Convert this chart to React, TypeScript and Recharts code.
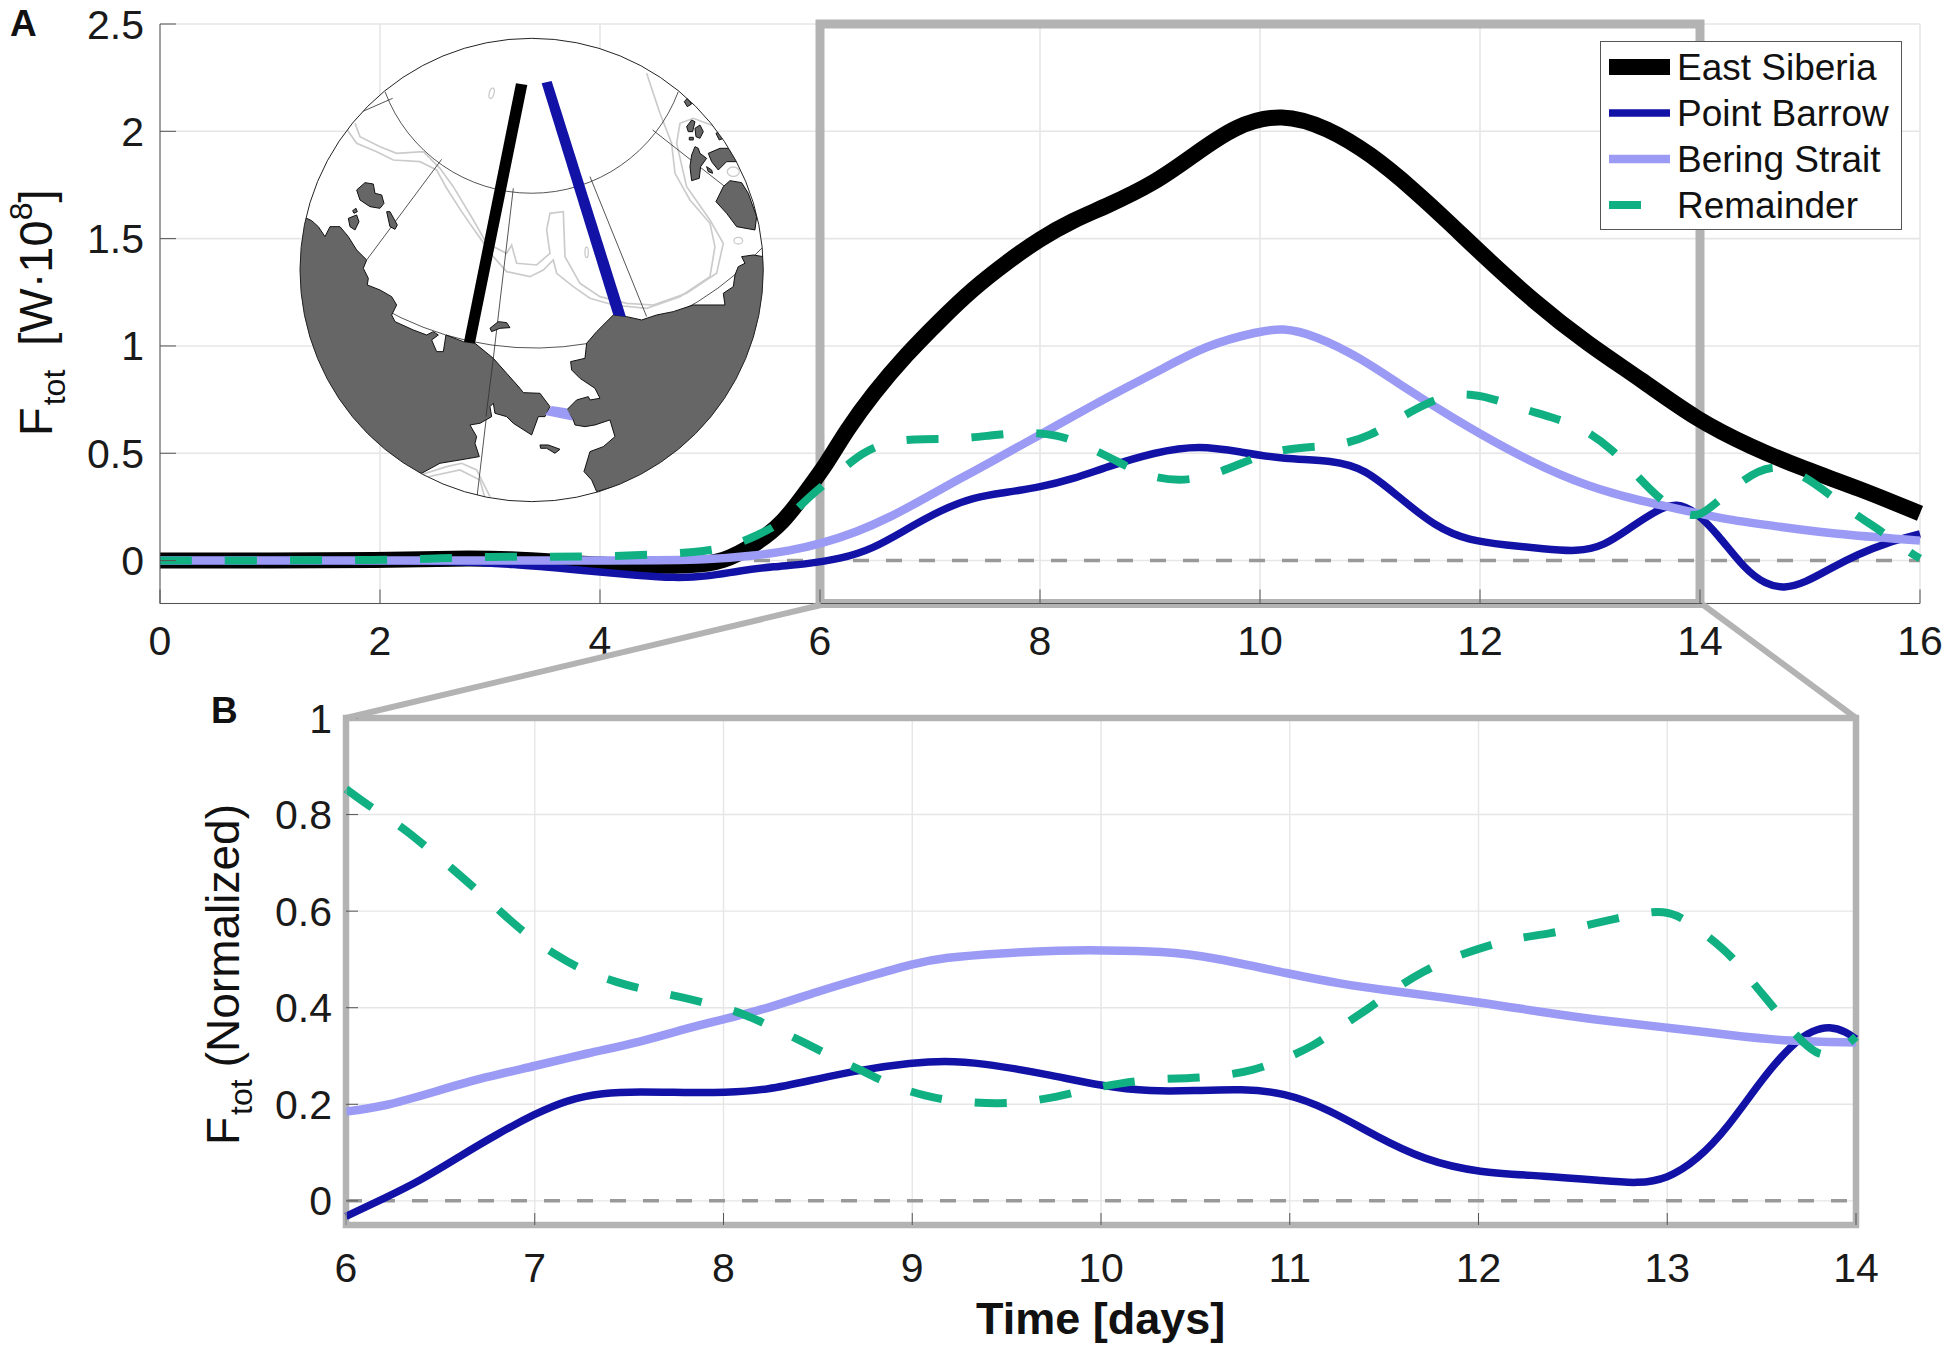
import {
  LineChart,
  Line,
  XAxis,
  YAxis,
  CartesianGrid,
  ReferenceArea,
  ReferenceLine,
  Legend,
} from 'recharts';

const FONT = '"Liberation Sans", Arial, sans-serif';
const BLACK = '#000000';
const BLUE = '#1212a6';
const LAVENDER = '#9b9bf5';
const GREEN = '#10b082';
const GREY = '#b3b3b3';
const FRAME = '#555555';

// Panel A, total flux [time in days, W x 10^8]
const eastSiberiaA = [
  [0, 0], [1, 0], [2, 0.002], [2.7, 0.011], [3.2, 0.008], [3.65, -0.008], [4, -0.02], [4.36, -0.025], [4.82, -0.025],
  [5.12, -0.008], [5.42, 0.077], [5.67, 0.178], [5.88, 0.326], [6.06, 0.45], [6.24, 0.606], [6.48, 0.777],
  [6.79, 0.963], [7.09, 1.119], [7.39, 1.267], [7.7, 1.391], [8, 1.5], [8.3, 1.586], [8.6, 1.65], [9.04, 1.758],
  [9.38, 1.883], [9.78, 2.03], [10.2, 2.085], [10.61, 2.018], [11.01, 1.894], [11.4, 1.727], [11.75, 1.56],
  [12, 1.436], [12.49, 1.206], [12.98, 1.009], [13.47, 0.842], [13.96, 0.659], [14.46, 0.53], [14.95, 0.426],
  [15.44, 0.338], [16, 0.22],
];
const pointBarrowA = [
  [0, 0], [1, 0], [2, 0], [2.6, -0.003], [3.2, -0.015], [3.88, -0.048], [4.36, -0.07], [4.67, -0.081], [4.97, -0.075],
  [5.27, -0.047], [5.58, -0.028], [5.88, -0.016], [6.18, 0.007], [6.48, 0.054], [6.79, 0.147], [7.09, 0.233],
  [7.39, 0.295], [7.7, 0.318], [8, 0.342], [8.3, 0.38], [8.6, 0.435], [9.04, 0.505], [9.456, 0.538], [9.83, 0.505],
  [10.22, 0.472], [10.66, 0.468], [10.96, 0.426], [11.25, 0.301], [11.6, 0.155], [11.9, 0.093], [12.24, 0.072],
  [12.58, 0.055], [12.88, 0.041], [13.13, 0.068], [13.37, 0.155], [13.62, 0.239], [13.79, 0.27], [13.96, 0.228],
  [14.16, 0.124], [14.41, -0.043], [14.6, -0.111], [14.76, -0.13], [14.95, -0.105], [15.2, -0.032], [15.44, 0.03],
  [15.69, 0.082], [16, 0.124],
];
const beringStraitA = [
  [0, 0], [2, 0], [4.36, 0], [4.97, 0.003], [5.42, 0.023], [5.73, 0.046], [6, 0.077], [6.33, 0.132], [6.64, 0.202],
  [6.94, 0.287], [7.24, 0.373], [7.55, 0.458], [7.85, 0.544], [8.15, 0.629], [8.45, 0.715], [8.76, 0.8], [9.04, 0.873],
  [9.53, 1.009], [9.99, 1.067], [10.2, 1.085], [10.5, 1.05], [10.91, 0.946], [11.3, 0.81], [11.75, 0.665], [12.24, 0.52],
  [12.73, 0.395], [13.2, 0.31], [13.72, 0.249], [14.21, 0.193], [14.7, 0.16], [15.2, 0.124], [16, 0.093],
];
const remainderA = [
  [0, 0], [1, 0.001], [2, 0.002], [2.5, 0.01], [3, 0.018], [3.5, 0.018], [4, 0.018], [4.55, 0.03], [4.85, 0.038],
  [5.15, 0.058], [5.43, 0.116], [5.69, 0.186], [5.91, 0.303], [6.14, 0.396], [6.38, 0.505], [6.64, 0.559], [6.95, 0.567],
  [7.24, 0.565], [7.55, 0.583], [7.84, 0.598], [8.15, 0.59], [8.42, 0.536], [8.72, 0.457], [8.96, 0.395], [9.27, 0.368],
  [9.555, 0.395], [9.85, 0.457], [10.1, 0.509], [10.42, 0.53], [10.71, 0.534], [11.01, 0.582], [11.25, 0.659],
  [11.525, 0.738], [11.8, 0.785], [12.1, 0.759], [12.38, 0.707], [12.68, 0.665], [12.95, 0.613], [13.2, 0.52],
  [13.41, 0.405], [13.64, 0.28], [13.86, 0.213], [14, 0.207], [14.15, 0.27], [14.38, 0.374], [14.65, 0.452],
  [14.92, 0.405], [15.17, 0.311], [15.4, 0.218], [15.66, 0.134], [15.9, 0.04], [16, 0.01],
];

// Panel B, normalized flux
const pointBarrowB = [
  [6, -0.032], [6.2, 0.005], [6.39, 0.041], [6.61, 0.094], [6.8, 0.138], [7, 0.18], [7.17, 0.209], [7.36, 0.224],
  [7.55, 0.226], [7.82, 0.224], [8, 0.224], [8.23, 0.229], [8.5, 0.253], [8.74, 0.272], [9, 0.286], [9.17, 0.29],
  [9.36, 0.286], [9.72, 0.262], [10, 0.238], [10.27, 0.226], [10.49, 0.228], [10.75, 0.232], [10.97, 0.224],
  [11.2, 0.191], [11.46, 0.133], [11.71, 0.085], [12, 0.058], [12.35, 0.052], [12.68, 0.041], [12.84, 0.036],
  [13, 0.045], [13.16, 0.085], [13.32, 0.151], [13.51, 0.257], [13.67, 0.328], [13.77, 0.353], [13.86, 0.362],
  [13.95, 0.35], [14, 0.335],
];
const beringStraitB = [
  [6, 0.185], [6.2, 0.195], [6.47, 0.226], [6.74, 0.257], [7, 0.279], [7.28, 0.306], [7.55, 0.328], [7.82, 0.359],
  [8, 0.376], [8.23, 0.398], [8.5, 0.434], [8.77, 0.465], [9, 0.491], [9.17, 0.504], [9.465, 0.513], [9.79, 0.519],
  [10, 0.519], [10.33, 0.517], [10.59, 0.505], [11.01, 0.469], [11.26, 0.45], [11.55, 0.434], [12, 0.412], [12.35, 0.39],
  [12.68, 0.372], [13, 0.359], [13.32, 0.344], [13.64, 0.33], [14, 0.328],
];
const remainderB = [
  [6, 0.853], [6.15, 0.81], [6.3, 0.774], [6.43, 0.731], [6.57, 0.686], [6.7, 0.641], [6.83, 0.595], [6.96, 0.55],
  [7.11, 0.509], [7.26, 0.476], [7.43, 0.453], [7.59, 0.436], [7.77, 0.423], [7.94, 0.406], [8.11, 0.388], [8.26, 0.359],
  [8.42, 0.33], [8.58, 0.297], [8.74, 0.269], [8.89, 0.238], [9.07, 0.217], [9.23, 0.205], [9.465, 0.201], [9.58, 0.204],
  [9.77, 0.215], [9.93, 0.232], [10.11, 0.244], [10.27, 0.252], [10.46, 0.254], [10.61, 0.257], [10.81, 0.27],
  [10.96, 0.292], [11.13, 0.321], [11.26, 0.359], [11.42, 0.398], [11.55, 0.438], [11.71, 0.476], [11.86, 0.504],
  [12.04, 0.527], [12.19, 0.544], [12.38, 0.553], [12.54, 0.568], [12.72, 0.584], [12.88, 0.597], [12.98, 0.6],
  [13.07, 0.59], [13.21, 0.55], [13.35, 0.504], [13.45, 0.453], [13.57, 0.398], [13.67, 0.347], [13.77, 0.31],
  [13.83, 0.3], [13.91, 0.308], [14, 0.34],
];

const xTicksA = [0, 2, 4, 6, 8, 10, 12, 14, 16];
const yTicksA = [0, 0.5, 1, 1.5, 2, 2.5];
const xTicksB = [6, 7, 8, 9, 10, 11, 12, 13, 14];
const yTicksB = [0, 0.2, 0.4, 0.6, 0.8, 1];

const toPoints = (rows: number[][]) => rows.map(([t, v]) => ({ t, v }));

const tickStyle = { fill: '#1a1a1a', fontSize: 41, fontFamily: FONT };
const noLabel = () => '';

function LegendBox({ payload }: any) {
  return (
    <div
      style={{
        width: 302,
        height: 189,
        background: '#fff',
        border: '1px solid #555',
        boxSizing: 'border-box',
        fontFamily: FONT,
        fontSize: 37,
        color: '#111',
      }}
    >
      {(payload || []).map((entry: any, i: number) => (
        <div key={entry.value} style={{ position: 'absolute', left: 0, top: 3 + i * 46, height: 46, whiteSpace: 'nowrap' }}>
          <svg width={76} height={46} style={{ position: 'absolute', left: 0, top: 0 }}>
            <line
              x1={9}
              x2={entry.payload.strokeDasharray ? 41 : 70}
              y1={23}
              y2={23}
              stroke={entry.color}
              strokeWidth={entry.payload.strokeWidth}
            />
          </svg>
          <span style={{ position: 'absolute', left: 77, top: 3, lineHeight: '42px' }}>{entry.value}</span>
        </div>
      ))}
    </div>
  );
}

function PanelA() {
  return (
    <LineChart width={1950} height={680} margin={{ top: 24, right: 30, bottom: 0, left: 60 }}>
      <CartesianGrid stroke="#e6e6e6" strokeWidth={1.6} />
      <XAxis
        dataKey="t"
        type="number"
        domain={[0, 16]}
        ticks={xTicksA}
        interval={0}
        height={76.5}
        tick={tickStyle}
        stroke={FRAME}
        tickSize={-14}
        tickMargin={36}
      />
      <XAxis xAxisId="top" orientation="top" type="number" domain={[0, 16]} ticks={xTicksA} interval={0} height={0} stroke={FRAME} tickSize={-14} tickFormatter={noLabel} />
      <YAxis
        type="number"
        domain={[-0.2, 2.5]}
        ticks={yTicksA}
        interval={0}
        width={100}
        tick={tickStyle}
        stroke={FRAME}
        tickSize={-16}
        tickMargin={32}
      />
      <YAxis yAxisId="right" orientation="right" type="number" domain={[-0.2, 2.5]} ticks={yTicksA} interval={0} width={0} stroke={FRAME} tickSize={-16} tickFormatter={noLabel} />
      <ReferenceArea x1={6} x2={14} y1={-0.2} y2={2.5} fill="none" stroke={GREY} strokeWidth={9} ifOverflow="visible" />
      <ReferenceLine y={0} stroke="#999999" strokeWidth={3.5} strokeDasharray="16 17" />
      <Line data={toPoints(eastSiberiaA)} dataKey="v" name="East Siberia" type="basis" stroke={BLACK} strokeWidth={16} dot={false} isAnimationActive={false} />
      <Line data={toPoints(pointBarrowA)} dataKey="v" name="Point Barrow" type="basis" stroke={BLUE} strokeWidth={7.5} dot={false} isAnimationActive={false} />
      <Line data={toPoints(beringStraitA)} dataKey="v" name="Bering Strait" type="basis" stroke={LAVENDER} strokeWidth={8.5} dot={false} isAnimationActive={false} />
      <Line data={toPoints(remainderA)} dataKey="v" name="Remainder" type="basis" stroke={GREEN} strokeWidth={8} strokeDasharray="32 33" dot={false} isAnimationActive={false} />
      <Legend
        content={LegendBox}
        layout="horizontal"
        verticalAlign="middle"
        itemSorter={null}
        wrapperStyle={{ position: 'absolute', left: 1600, top: 41, width: 302, height: 189 }}
      />
    </LineChart>
  );
}

function PanelB() {
  return (
    <LineChart width={1950} height={669} margin={{ top: 38, right: 94, bottom: 0, left: 246 }}>
      <CartesianGrid stroke="#e6e6e6" strokeWidth={1.4} />
      <XAxis
        dataKey="t"
        type="number"
        domain={[6, 14]}
        ticks={xTicksB}
        interval={0}
        height={124}
        tick={tickStyle}
        stroke={GREY}
        tickLine={{ stroke: FRAME }}
        tickSize={-12}
        tickMargin={40}
      />
      <XAxis xAxisId="top" orientation="top" type="number" domain={[6, 14]} ticks={xTicksB} interval={0} height={0} stroke={GREY} tickLine={{ stroke: FRAME }} tickSize={-12} tickFormatter={noLabel} />
      <YAxis
        type="number"
        domain={[-0.05, 1]}
        ticks={yTicksB}
        interval={0}
        width={100}
        tick={tickStyle}
        stroke={GREY}
        tickLine={{ stroke: FRAME }}
        tickSize={-12}
        tickMargin={26}
      />
      <YAxis yAxisId="right" orientation="right" type="number" domain={[-0.05, 1]} ticks={yTicksB} interval={0} width={0} stroke={GREY} tickLine={{ stroke: FRAME }} tickSize={-12} tickFormatter={noLabel} />
      <ReferenceLine y={0} stroke="#999999" strokeWidth={3.5} strokeDasharray="16 17" />
      <ReferenceArea x1={6} x2={14} y1={-0.05} y2={1} fill="none" stroke={GREY} strokeWidth={6.5} ifOverflow="visible" />
      <Line data={toPoints(pointBarrowB)} dataKey="v" name="Point Barrow" type="basis" stroke={BLUE} strokeWidth={7.5} dot={false} isAnimationActive={false} />
      <Line data={toPoints(beringStraitB)} dataKey="v" name="Bering Strait" type="basis" stroke={LAVENDER} strokeWidth={8.5} dot={false} isAnimationActive={false} />
      <Line data={toPoints(remainderB)} dataKey="v" name="Remainder" type="basis" stroke={GREEN} strokeWidth={8} strokeDasharray="32 33" dot={false} isAnimationActive={false} />
    </LineChart>
  );
}

// Map inset, traced in a 3x frame of the picture
const LAND_WEST = 'M80 565 L95 572 115 590 135 620 150 590 180 590 205 620 230 660 260 690 250 715 265 745 262 765 300 780 335 800 350 825 335 855 345 875 400 900 440 915 460 905 475 915 455 930 470 965 490 965 498 915 550 935 585 940 640 985 680 1030 720 1075 730 1088 780 1090 810 1130 795 1160 775 1160 755 1215 700 1180 680 1160 645 1150 640 1120 630 1130 635 1160 600 1180 570 1185 590 1220 585 1240 598 1280 540 1290 480 1300 425 1330 300 1300 60 1000 0 720 60 565 Z';
const LAND_EAST = 'M1000 855 L1040 860 1085 870 1130 855 1180 845 1240 825 1335 825 1330 790 1360 770 1365 735 1375 710 1395 700 1385 680 1420 675 1450 680 1500 700 1500 1000 1250 1300 950 1385 935 1350 912 1325 930 1265 970 1250 1005 1220 990 1170 945 1185 915 1190 885 1185 880 1170 860 1140 890 1110 925 1100 930 1110 960 1105 945 1075 900 1045 875 1020 872 995 915 985 920 940 950 905 Z';
const ISLANDS = [
  '230,480 255,458 280,462 285,490 305,495 312,520 300,535 270,530 240,510',
  '205,565 230,555 237,575 225,600 210,590',
  '218,542 228,535 232,545 222,550',
  '320,545 330,545 352,585 345,598 330,590',
  '630,895 655,875 680,878 690,893 660,895 635,905',
  '780,1245 805,1245 840,1258 825,1270 800,1255 782,1255',
  '1213,215 1222,205 1235,222 1222,230',
  '1220,290 1235,270 1245,275 1238,305 1225,305',
  '1245,295 1260,285 1270,305 1260,325 1248,320',
  '1228,322 1240,322 1240,330 1228,330',
  '1308,310 1318,305 1330,325 1318,330',
  '1235,375 1245,350 1255,355 1260,370 1280,385 1262,410 1258,445 1235,452 1230,410',
  '1285,370 1320,355 1350,355 1370,395 1340,395 1315,420 1295,395',
  '1280,410 1295,420 1298,430 1285,425',
  '1330,470 1350,452 1385,458 1405,490 1430,560 1425,600 1370,590 1340,550 1308,515',
];
const CONTOURS = [
  '195,290 230,340 290,365 340,390 420,395 470,420 500,475 545,545 590,610 640,680 680,725 750,740 790,720 820,690 830,730 880,770 930,805 1000,825 1100,835 1200,800 1290,740 1305,650 1290,580 1230,510 1185,430 1175,340 1140,250 1100,130',
  '225,280 240,320 300,350 350,370 430,365 480,415 520,470 580,570 620,640 680,670 695,645 710,700 770,705 810,670 800,600 810,550 850,545 855,680 900,760 960,800 1040,820 1120,825 1220,790 1310,730 1330,640 1290,570 1220,470 1190,340 1200,280 1240,265 1320,295',
  '390,1345 500,1310 545,1300 590,1320 630,1400',
  '410,1348 540,1320 600,1350 615,1405',
];
const GRATICULE = [
  'M315 185 A470 470 0 0 0 1195 185',
  'M300 830 A930 930 0 0 0 1370 730',
  'M260 690 L485 388',
  'M700 475 L590 1410',
  'M930 440 L1100 860',
  'M1118 300 L1335 470',
  'M235 250 L338 205',
  'M1420 680 L1450 650',
];

function MapInset() {
  return (
    <g transform="translate(280 30) scale(0.3333)">
      <defs>
        <clipPath id="globe">
          <circle cx={755} cy={720} r={695} />
        </clipPath>
      </defs>
      <circle cx={755} cy={720} r={695} fill="#fff" />
      <g clipPath="url(#globe)">
        {CONTOURS.map((pts) => (
          <polyline key={pts} points={pts} fill="none" stroke="#cbcbcb" strokeWidth={5} />
        ))}
        <ellipse cx={635} cy={190} rx={7} ry={16} fill="none" stroke="#cbcbcb" strokeWidth={4} transform="rotate(15 635 190)" />
        <ellipse cx={920} cy={667} rx={5} ry={16} fill="none" stroke="#cbcbcb" strokeWidth={4} />
        <ellipse cx={1375} cy={632} rx={13} ry={10} fill="none" stroke="#cbcbcb" strokeWidth={4} />
        <ellipse cx={1360} cy={425} rx={18} ry={14} fill="none" stroke="#cbcbcb" strokeWidth={4} />
        {GRATICULE.map((d) => (
          <path key={d} d={d} fill="none" stroke="#333" strokeWidth={2.5} />
        ))}
        <path d={LAND_WEST} fill="#666666" stroke="#111" strokeWidth={3} />
        <path d={LAND_EAST} fill="#666666" stroke="#111" strokeWidth={3} />
        {ISLANDS.map((pts) => (
          <polygon key={pts} points={pts} fill="#666666" stroke="#111" strokeWidth={3} />
        ))}
        <path d="M640 985 L618 1160" fill="none" stroke="#333" strokeWidth={2.5} />
      </g>
      <circle cx={755} cy={720} r={695} fill="none" stroke="#222" strokeWidth={3} />
      <polygon points="708,160 742,165 585,940 552,935" fill={BLACK} />
      <polygon points="785,160 815,153 1038,860 1000,855" fill={BLUE} />
      <polygon points="815,1128 860,1135 880,1172 795,1155" fill={LAVENDER} />
    </g>
  );
}

function Overlay() {
  return (
    <svg width={1950} height={1349} style={{ position: 'absolute', left: 0, top: 0, pointerEvents: 'none' }}>
      <MapInset />
      <line x1={821} y1={605} x2={346} y2={718} stroke={GREY} strokeWidth={6} />
      <line x1={1702} y1={604} x2={1856} y2={718} stroke={GREY} strokeWidth={6} />
      <g fontFamily={FONT} fill="#111">
        <text x={10} y={36} fontSize={37} fontWeight="bold">A</text>
        <text x={211} y={723} fontSize={37} fontWeight="bold">B</text>
        <text transform="translate(52 436) rotate(-90)" fontSize={47}>
          F
          <tspan fontSize={32} dy={13} dx={2}>tot</tspan>
          <tspan dy={-13} dx={24}>[W·10</tspan>
          <tspan fontSize={32} dy={-20}>8</tspan>
          <tspan dy={20}>]</tspan>
        </text>
        <text transform="translate(239 1145) rotate(-90)" fontSize={46}>
          F
          <tspan fontSize={32} dy={13} dx={2}>tot</tspan>
          <tspan dy={-13} dx={12}>(Normalized)</tspan>
        </text>
        <text x={976} y={1334} fontSize={45} fontWeight="bold">Time [days]</text>
      </g>
    </svg>
  );
}

export default function App() {
  return (
    <div style={{ position: 'absolute', left: 0, top: 0, width: 1950, height: 1349, background: '#fff', overflow: 'hidden' }}>
      <div style={{ position: 'absolute', left: 0, top: 0 }}>
        <PanelA />
      </div>
      <div style={{ position: 'absolute', left: 0, top: 680 }}>
        <PanelB />
      </div>
      <Overlay />
    </div>
  );
}
